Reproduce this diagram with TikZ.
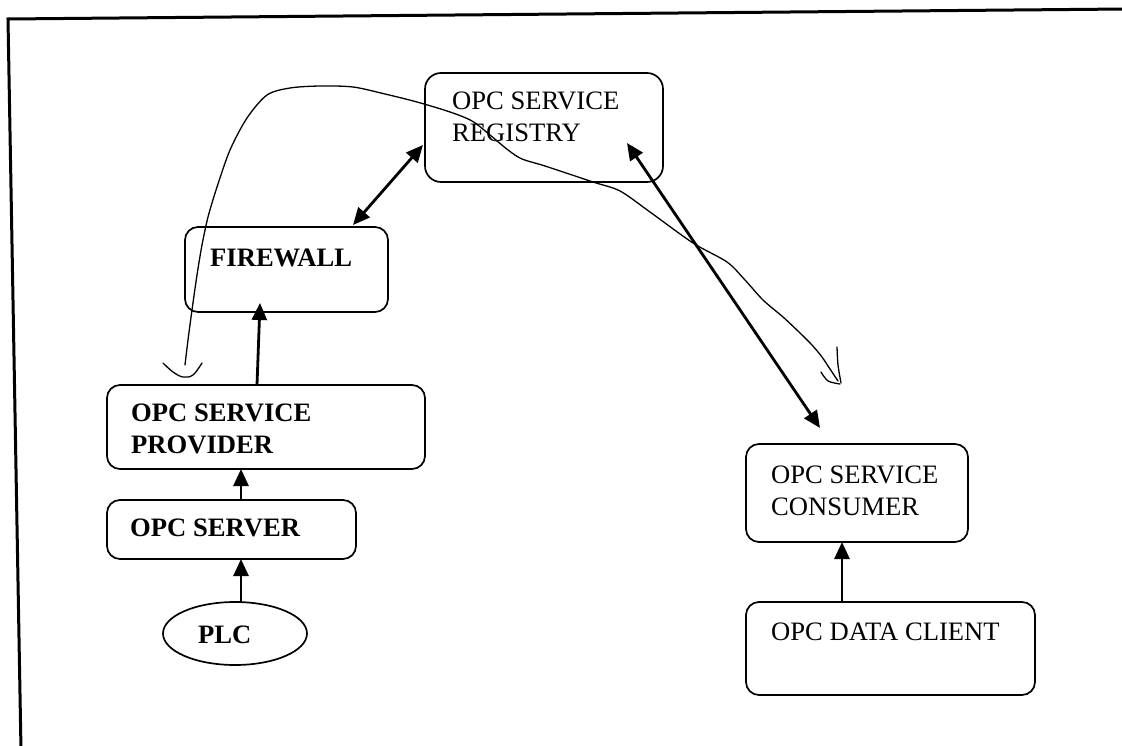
\documentclass[tikz,border=0pt]{standalone}
\usepackage{fontspec}
\setmainfont{Liberation Serif}
\usetikzlibrary{arrows.meta,shapes.geometric,calc}
\begin{document}
\begin{tikzpicture}[x=1pt,y=-1pt,
  box/.style={draw, line width=1.7pt, rounded corners=13pt, rectangle,
    inner sep=0pt, outer sep=0pt},
  oval/.style={draw, line width=1.7pt, ellipse, inner sep=0pt, outer sep=0pt},
  lbl/.style={anchor=north west, inner sep=0pt, align=left,
    font=\fontsize{26.6}{32}\selectfont},
  blbl/.style={lbl, font=\fontsize{26.6}{32}\selectfont\bfseries},
  tip/.tip={Triangle[length=17pt,width=15pt]},
  link/.style={line width=2.8pt, -tip},
  dlink/.style={line width=2.8pt, tip-tip},
  sketch/.style={line width=1.3pt, line cap=round, line join=round}]

\useasboundingbox (0,0) rectangle (1122,746);

% page frame
\draw[line width=3pt] (21,750) -- (8,19) -- (1126,9);

% boxes
\node[box, rounded corners=16pt, minimum width=238pt, minimum height=109pt] (reg) at (544,127.5) {};
\node[box, minimum width=203pt, minimum height=85pt] (fw) at (286.5,269.5) {};
\node[box, minimum width=318pt, minimum height=84pt] (prov) at (266,427) {};
\node[box, minimum width=249pt, minimum height=59pt] (serv) at (231.5,529.5) {};
\node[oval, minimum width=144pt, minimum height=63pt] (plc) at (235,633.5) {};
\node[box, minimum width=222pt, minimum height=98pt] (cons) at (857,493) {};
\node[box, minimum width=289pt, minimum height=93pt] (cli) at (890.5,648.5) {};

% labels
\node[lbl] (regtxt) at (452,92) {OPC SERVICE\\REGISTRY};
\node[blbl] (fwtxt) at (210,249) {FIREWALL};
\node[blbl] (provtxt) at (131,404) {OPC SERVICE\\PROVIDER};
\node[blbl] (servtxt) at (130,519) {OPC SERVER};
\node[blbl] (plctxt) at (198,626) {PLC};
\node[lbl] (constxt) at (771,466) {OPC SERVICE\\CONSUMER};
\node[lbl] (clitxt) at (771,623) {OPC DATA CLIENT};

% connectors
\draw[link] ($(plc.north)+(6,0)$) -- ($(serv.south west)+(134,0)$);
\draw[link] ($(serv.north west)+(134,0)$) -- ($(prov.south west)+(134,0)$);
\draw[link] ($(prov.north west)+(150,0)$) -- ($(fw.south west)+(75,-9)$);
\draw[dlink] ($(fw.north west)+(168,-2)$) -- ($(reg.south west)+(-2,-37)$);
\draw[dlink] ($(reg.south west)+(202,-39)$) -- ($(cons.north west)+(74,-16)$);
\draw[link] ($(cli.north west)+(96,0)$) -- ($(cons.south west)+(96,0)$);

% hand-drawn stroke
\draw[sketch] plot[smooth, tension=0.5] coordinates {
  (185,365) (188,340) (192,310) (197,275) (202,245) (208,217) (217,187)
  (230,150) (247,118) (267,95) (290,88) (320,86) (353,87) (385,94)
  (417,102) (450,112) (472,121) (490,135) (508,150) (522,159) (545,166)
  (593,182) (620,191) (650,212) (693,243) (727,262) (745,280) (763,300)
  (783,317) (800,333) (812,345) (822,357) (828,366) (838,381)};
\draw[sketch] plot[smooth, tension=0.6] coordinates {
  (163,363) (173,372) (183,377) (193,375) (202,363)};
\draw[sketch] plot[smooth, tension=0.5] coordinates {
  (821,372) (828,381) (840,384)};
\draw[sketch] plot[smooth, tension=0.5] coordinates {
  (837,347) (838,365) (841,383)};
\end{tikzpicture}
\end{document}
